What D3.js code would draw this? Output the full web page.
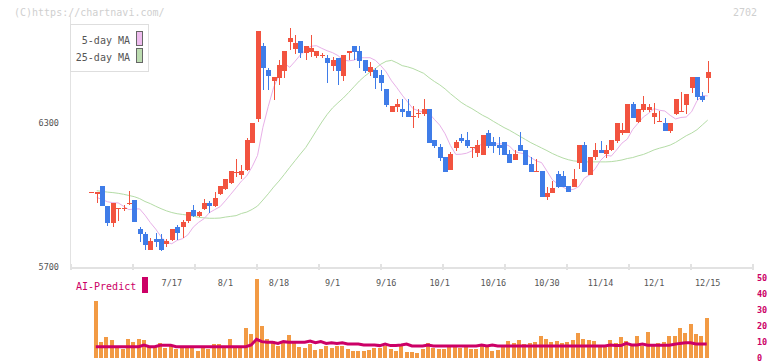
<!DOCTYPE html>
<html><head><meta charset="utf-8">
<script src="https://cdn.jsdelivr.net/npm/d3@7"></script>
<style>body{margin:0;background:#fff;}svg{display:block;}</style>
</head><body><svg id="c" width="772" height="361"></svg>
<script>
const dates = ["6/26","6/27","6/30","7/1","7/2","7/3","7/4","7/7","7/8","7/9","7/10","7/11","7/14","7/15","7/16","7/17","7/18","7/22","7/23","7/24","7/25","7/28","7/29","7/30","7/31","8/1","8/4","8/5","8/6","8/7","8/8","8/12","8/13","8/14","8/15","8/18","8/19","8/20","8/21","8/22","8/25","8/26","8/27","8/28","8/29","9/1","9/2","9/3","9/4","9/5","9/8","9/9","9/10","9/11","9/12","9/16","9/17","9/18","9/19","9/22","9/24","9/25","9/26","9/29","9/30","10/1","10/2","10/3","10/6","10/7","10/8","10/9","10/10","10/14","10/15","10/16","10/17","10/20","10/21","10/22","10/23","10/24","10/27","10/28","10/29","10/30","10/31","11/4","11/5","11/6","11/7","11/10","11/11","11/12","11/13","11/14","11/17","11/18","11/19","11/20","11/21","11/25","11/26","11/27","11/28","12/1","12/2","12/3","12/4","12/5","12/8","12/9","12/10","12/11","12/12","12/15"];
const open = [6014,6006,6037,5955,5885,5945,5945,5967,5979,5858,
5836,5771,5817,5817,5795,5812,5867,5865,5892,5937,
5914,5942,5967,5956,6006,6025,6049,6096,6083,6104,
6218,6315,6621,6521,6475,6489,6518,6639,6610,6642,
6590,6597,6580,6583,6572,6539,6572,6497,6590,6621,
6600,6562,6511,6521,6500,6442,6347,6368,6358,6350,
6330,6343,6337,6358,6229,6199,6160,6104,6197,6239,
6229,6199,6174,6167,6260,6222,6208,6222,6171,6146,
6208,6188,6129,6100,6100,5993,6007,6087,6079,6037,
6035,6135,6208,6083,6157,6188,6170,6188,6226,6257,
6257,6378,6305,6354,6354,6326,6308,6299,6268,6337,
6350,6375,6447,6490,6412,6489];
const high = [6014,6014,6037,5955,5967,5947,5957,6017,5979,5868,
5845,5820,5840,5836,5817,5858,5875,5896,5928,5958,
5935,5985,5976,6012,6037,6065,6101,6149,6124,6238,
6299,6683,6632,6529,6490,6563,6600,6694,6665,6642,
6621,6665,6600,6593,6583,6577,6572,6583,6600,6621,
6621,6562,6553,6529,6521,6442,6371,6400,6400,6400,
6371,6359,6400,6358,6229,6211,6160,6180,6229,6256,
6262,6199,6229,6250,6271,6243,6243,6222,6188,6188,
6264,6188,6160,6149,6100,6033,6060,6100,6100,6037,
6110,6208,6219,6160,6215,6225,6208,6229,6299,6299,
6378,6389,6357,6414,6378,6385,6351,6320,6299,6399,
6430,6421,6490,6490,6429,6559];
const low = [6014,5966,5955,5871,5866,5893,5935,5958,5886,5805,
5771,5771,5785,5765,5785,5808,5812,5821,5885,5910,
5910,5937,5923,5950,6000,6020,6045,6076,6065,6100,
6215,6305,6437,6437,6396,6458,6487,6604,6589,6569,
6562,6576,6569,6569,6465,6518,6458,6477,6562,6562,
6530,6508,6496,6441,6433,6368,6347,6347,6325,6326,
6279,6321,6330,6218,6197,6142,6097,6104,6183,6218,
6197,6154,6160,6167,6197,6175,6167,6167,6135,6146,
6183,6125,6097,6100,5993,5979,6007,6028,6035,6014,
6035,6110,6097,6083,6146,6176,6154,6183,6217,6250,
6257,6320,6299,6346,6346,6296,6305,6268,6257,6333,
6350,6337,6425,6396,6387,6425];
const close = [6014,6014,5955,5885,5966,5945,5945,5967,5886,5836,
5792,5808,5806,5771,5810,5858,5843,5889,5928,5914,
5930,5967,5956,5989,6037,6065,6101,6096,6101,6229,
6299,6683,6530,6497,6490,6542,6600,6655,6632,6590,
6621,6611,6600,6583,6549,6562,6518,6583,6600,6597,
6560,6518,6532,6489,6468,6375,6371,6379,6347,6326,
6330,6343,6358,6218,6205,6153,6097,6171,6222,6225,
6205,6199,6208,6250,6204,6204,6197,6167,6135,6171,
6183,6125,6097,6100,5993,6007,6031,6035,6035,6014,
6065,6208,6097,6160,6188,6176,6188,6229,6299,6271,
6378,6320,6357,6378,6368,6340,6308,6268,6299,6399,
6350,6421,6490,6410,6396,6514];
const ma5 = [null,5990,5981,5972,5968,5967,5953,5939,5942,5942,
5916,5885,5858,5826,5803,5797,5811,5818,5834,5866,
5886,5901,5926,5939,5951,5976,6003,6030,6058,6080,
6118,6165,6282,6369,6448,6500,6549,6532,6557,6584,
6604,6620,6622,6611,6601,6593,6581,6562,6559,6562,
6572,6572,6572,6561,6539,6513,6476,6447,6416,6388,
6360,6351,6345,6341,6315,6291,6255,6206,6169,6170,
6174,6184,6204,6212,6217,6213,6213,6213,6204,6181,
6175,6171,6156,6142,6135,6100,6064,6046,6033,6020,
6024,6036,6071,6084,6109,6144,6166,6162,6188,6216,
6233,6273,6299,6325,6341,6360,6353,6350,6332,6317,
6323,6325,6347,6392,6414,6413];
const ma25 = [null,6018,6015,6012,6010,6007,6003,5998,5993,5985,
5973,5964,5953,5943,5934,5927,5922,5919,5916,5912,
5907,5905,5903,5903,5904,5908,5911,5914,5923,5929,
5940,5954,5979,6005,6033,6058,6086,6115,6143,6171,
6198,6233,6269,6304,6336,6363,6384,6404,6427,6451,
6475,6495,6512,6527,6545,6557,6561,6551,6539,6534,
6527,6517,6507,6489,6473,6459,6442,6422,6404,6386,
6372,6360,6346,6332,6321,6307,6294,6281,6270,6257,
6244,6231,6218,6207,6196,6185,6173,6163,6154,6147,
6142,6140,6138,6138,6138,6138,6138,6139,6142,6146,
6152,6156,6163,6169,6178,6188,6195,6201,6208,6219,
6233,6247,6258,6272,6292,6312];
const volume = [null,36.1,10.3,13.2,11.3,7.1,5.7,12.0,10.3,12.0,
11.3,7.6,7.1,9.4,6.5,7.6,5.7,7.6,7.6,6.7,
4.6,7.6,5.5,8.8,8.8,7.6,12.0,6.7,7.6,19.1,
15.1,49.7,20.2,12.0,10.7,7.6,10.3,14.5,10.7,6.7,
6.1,8.8,5.0,5.7,7.7,6.5,7.7,7.7,5.7,4.6,
4.6,4.6,5.0,6.5,6.1,7.6,5.5,4.6,7.6,4.0,
4.0,3.0,5.5,9.7,6.5,5.9,5.9,7.6,7.1,6.1,
7.6,5.5,5.9,7.6,7.1,4.6,5.0,6.7,10.9,9.7,
11.3,8.8,9.7,10.3,13.9,12.0,10.3,10.7,9.7,10.3,
11.3,15.9,12.0,11.3,10.7,7.7,7.6,11.3,9.7,13.0,
10.9,7.7,13.9,7.7,16.1,7.7,9.7,10.3,13.9,13.9,
18.6,15.9,21.3,15.3,13.9,25.2];
const aiPredict = [null,7.1,7.1,7.1,7.1,7.1,7.1,7.1,7.1,7.1,
8.2,7.1,7.1,8.0,8.0,8.0,7.1,7.1,7.1,7.1,
7.1,7.1,7.1,7.1,7.1,7.1,7.1,7.1,7.1,7.1,
8.2,11.8,10.3,9.9,9.9,9.2,10.3,9.9,9.9,9.9,
9.9,10.7,9.6,10.3,9.2,9.6,9.2,9.6,8.8,8.8,
8.8,8.2,8.2,8.2,7.8,8.8,7.8,7.8,8.2,8.8,
7.6,7.6,7.6,8.2,7.6,7.6,7.6,7.6,7.6,7.6,
7.6,7.6,7.6,8.2,7.6,8.2,7.6,7.6,7.6,7.6,
7.6,7.6,7.6,7.6,7.6,7.6,7.6,7.6,7.6,7.6,
7.6,7.6,7.6,7.6,7.6,7.6,7.6,8.2,7.8,7.8,
9.2,8.2,8.2,8.8,8.0,8.0,8.0,8.0,8.0,8.6,
9.2,9.6,9.6,8.8,8.8,8.8];
const priceTicks = [5700, 6300];
const volTicks = [0, 10, 20, 30, 40, 50];
const dateTicks = ["7/17","8/1","8/18","9/1","9/16","10/1","10/16","10/30","11/14","12/1","12/15"];

const RED = "#f2533f", BLUE = "#3f7ce8";
const svg = d3.select("#c");
const mono = "'DejaVu Sans Mono', monospace";
const x = d3.scaleLinear().domain([0, dates.length - 1]).range([91.4, 707.7]);
const y = d3.scaleLinear().domain([5700, 6300]).range([267, 123]);
const yv = d3.scaleLinear().domain([0, 50]).range([358, 278.6]);
const grid = d3.scaleLinear().domain([0, 11]).range([70, 752]);
const px = i => Math.round(x(i));

svg.append("text").attr("x", 14).attr("y", 16).attr("font-family", mono).attr("font-size", 10)
  .attr("fill", "#cfcfcf").text("(C)https://chartnavi.com/");
svg.append("text").attr("x", 757).attr("y", 16).attr("text-anchor", "end").attr("font-family", mono)
  .attr("font-size", 10).attr("fill", "#cfcfcf").text("2702");

const ax = svg.append("g").attr("stroke", "#e2e2e2").attr("shape-rendering", "crispEdges");
ax.append("line").attr("x1", 70.5).attr("x2", 70.5).attr("y1", 15).attr("y2", 268).attr("stroke-width", 1);
ax.append("line").attr("x1", 70).attr("x2", 753).attr("y1", 267.5).attr("y2", 267.5).attr("stroke-width", 2);
ax.selectAll("line.t").data(d3.range(12)).join("line").attr("class", "t")
  .attr("x1", d => Math.round(grid(d)) + 0.5).attr("x2", d => Math.round(grid(d)) + 0.5)
  .attr("y1", 264).attr("y2", 270).attr("stroke-width", 2);

svg.selectAll("text.py").data(priceTicks).join("text").attr("class", "py")
  .attr("x", 59).attr("y", d => y(d) + 3).attr("text-anchor", "end")
  .attr("font-family", mono).attr("font-size", 8.5).attr("fill", "#555").text(d => d);

svg.selectAll("text.dx").data(dateTicks).join("text").attr("class", "dx")
  .attr("x", d => x(dates.indexOf(d))).attr("y", 286).attr("text-anchor", "middle")
  .attr("font-family", mono).attr("font-size", 8.5).attr("fill", "#555").text(d => d);

const lineGen = arr => d3.line().defined((d, i) => arr[i] != null)
  .x((d, i) => x(i)).y((d, i) => y(arr[i]))(arr);
svg.append("path").attr("d", lineGen(ma25)).attr("fill", "none").attr("stroke", "#b4dca6").attr("stroke-width", 1);
svg.append("path").attr("d", lineGen(ma5)).attr("fill", "none").attr("stroke", "#e8b0e8").attr("stroke-width", 1);

const idx = d3.range(dates.length);
const cg = svg.append("g").attr("shape-rendering", "crispEdges");
cg.selectAll("line.w").data(idx).join("line").attr("class", "w")
  .attr("x1", i => px(i) + 0.5).attr("x2", i => px(i) + 0.5)
  .attr("y1", i => y(high[i])).attr("y2", i => y(low[i]))
  .attr("stroke", i => close[i] >= open[i] ? RED : BLUE).attr("stroke-width", 1);
cg.selectAll("rect.b").data(idx).join("rect").attr("class", "b")
  .attr("x", i => px(i) - 2).attr("width", 5)
  .attr("y", i => y(Math.max(open[i], close[i])))
  .attr("height", i => Math.max(1, Math.abs(y(open[i]) - y(close[i]))))
  .attr("fill", i => close[i] >= open[i] ? RED : BLUE);

const lg = svg.append("g");
lg.append("rect").attr("x", 70.5).attr("y", 24.5).attr("width", 78).attr("height", 47)
  .attr("fill", "#fff").attr("stroke", "#dedede");
[["5-day MA", "#eebcee", 31.5, 44], ["25-day MA", "#bcdcb0", 48.5, 61]].forEach(([t, c, ry, ty]) => {
  lg.append("text").attr("x", 130).attr("y", ty).attr("text-anchor", "end").attr("font-family", mono)
    .attr("font-size", 10).attr("fill", "#555").text(t);
  lg.append("rect").attr("x", 136.5).attr("y", ry).attr("width", 6).attr("height", 14)
    .attr("fill", c).attr("stroke", "#666");
});

svg.selectAll("rect.v").data(idx.filter(i => volume[i] != null)).join("rect").attr("class", "v")
  .attr("x", i => px(i) - 3).attr("width", 4)
  .attr("y", i => yv(volume[i])).attr("height", i => yv(0) - yv(volume[i]))
  .attr("fill", "#f29a44").attr("shape-rendering", "crispEdges");
svg.append("path").attr("d", d3.line().defined((d, i) => aiPredict[i] != null)
    .x((d, i) => x(i) - 1).y((d, i) => yv(aiPredict[i]))(aiPredict))
  .attr("fill", "none").attr("stroke", "#cc0066").attr("stroke-width", 3);

svg.selectAll("text.vy").data(volTicks).join("text").attr("class", "vy")
  .attr("x", 757).attr("y", d => yv(d) + 2.5).attr("font-family", mono).attr("font-size", 8.5)
  .attr("font-weight", "bold").attr("fill", "#cc0066").text(d => d);

svg.append("text").attr("x", 76).attr("y", 290).attr("font-family", mono).attr("font-size", 10)
  .attr("fill", "#cc0066").text("AI-Predict");
svg.append("rect").attr("x", 142).attr("y", 277).attr("width", 6).attr("height", 16).attr("fill", "#cc0066");
</script></body></html>
